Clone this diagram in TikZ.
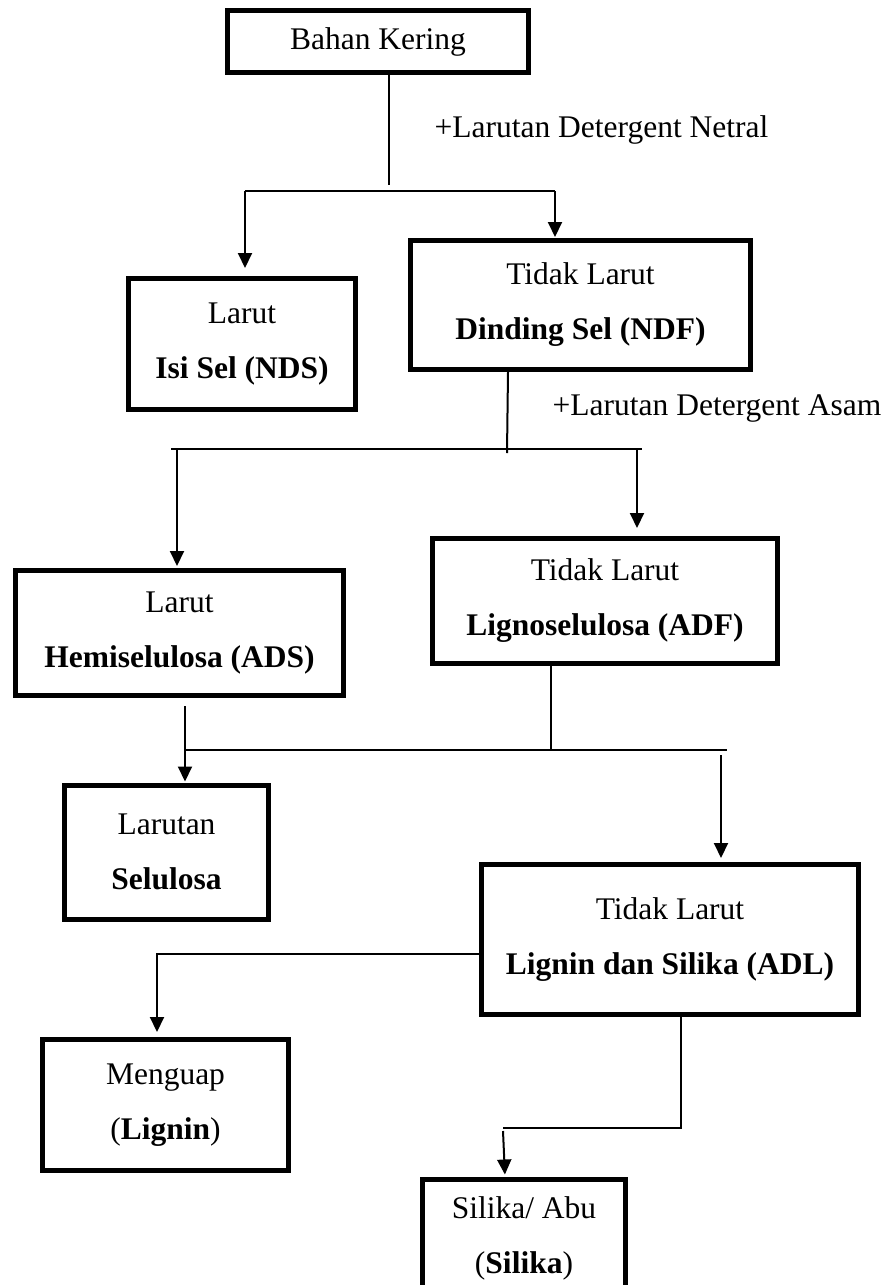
\documentclass[tikz,border=0pt]{standalone}
\usepackage{fontspec}
\setmainfont{Liberation Serif}
\usetikzlibrary{arrows.meta}
\tikzset{
  box/.style={draw=black, line width=5pt, rectangle, inner sep=0pt, align=center,
    font=\fontsize{31.5}{55}\selectfont},
  lbl/.style={inner sep=0pt, font=\fontsize{31.5}{38}\selectfont},
  conn/.style={draw=black, line width=2pt},
  arr/.style={conn, -{Triangle[length=15pt,width=14pt]}},
}
\begin{document}
\begin{tikzpicture}[x=1pt,y=-1pt]
\useasboundingbox (0,0) rectangle (893,1285);
\clip (0,0) rectangle (893,1285);
% boxes
\node[box, minimum width=301, minimum height=62] (b1) at (378,41.5) {Bahan Kering};
\node[box, minimum width=227, minimum height=131] (b2) at (242,344) {Larut\\\textbf{Isi Sel (NDS)}};
\node[box, minimum width=340, minimum height=129] (b3) at (580.5,305) {Tidak Larut\\\textbf{Dinding Sel (NDF)}};
\node[box, minimum width=328, minimum height=125] (b4) at (179.5,633) {Larut\\\textbf{Hemiselulosa (ADS)}};
\node[box, minimum width=345, minimum height=125] (b5) at (605,601) {Tidak Larut\\\textbf{Lignoselulosa (ADF)}};
\node[box, minimum width=204, minimum height=134] (b6) at (166.5,852) {Larutan\\\textbf{Selulosa}};
\node[box, minimum width=377, minimum height=150] (b7) at (670,939.5) {Tidak Larut\\\textbf{Lignin dan Silika (ADL)}};
\node[box, minimum width=246, minimum height=131] (b8) at (165.5,1105) {Menguap\\(\textbf{Lignin})};
\node[box, minimum width=203, minimum height=160, anchor=north] (b9) at (524,1176.5) {};
\node[lbl, align=center, font=\fontsize{31.5}{55}\selectfont] (t9) at (524,1238) {Silika/ Abu\\(\textbf{Silika})};
% labels
\node[lbl] (l1) at (601.5,130) {+Larutan Detergent Netral};
\node[lbl] (l2) at (717,408) {+Larutan Detergent Asam};
% connectors level 1
\coordinate (j1) at (389,185);
\coordinate (h1l) at (245,191);
\coordinate (h1r) at (555,191);
\draw[conn] (b1.south -| j1) -- (j1);
\draw[conn] (h1l) -- (h1r);
\draw[arr, shorten >=8pt] (h1l) -- (h1l |- b2.north);
\draw[arr, shorten >=1pt] (h1r) -- (h1r |- b3.north);
% level 2
\coordinate (j2) at (507,453);
\coordinate (h2l) at (171,449);
\coordinate (h2r) at (642,449);
\coordinate (d2l) at (177,449);
\coordinate (d2r) at (637,449);
\draw[conn] (b3.south -| 508,0) -- (j2);
\draw[conn] (h2l) -- (h2r);
\draw[arr, shorten >=2pt] (d2l) -- (d2l |- b4.north);
\draw[arr, shorten >=8pt] (d2r) -- (d2r |- b5.north);
% level 3
\coordinate (s4) at (185,706);
\coordinate (h3l) at (185,750);
\coordinate (h3r) at (727,750);
\coordinate (j3) at (551,750);
\coordinate (s7) at (721,755);
\draw[conn] (h3l) -- (h3r);
\draw[conn] (b5.south -| j3) -- (j3);
\draw[arr, shorten >=1pt] (s4) -- (s4 |- b6.north);
\draw[arr, shorten >=4pt] (s7) -- (s7 |- b7.north);
% level 4
\coordinate (k8) at (157,954);
\draw[arr, shorten >=5pt] (b7.west |- k8) -- (k8) -- (k8 |- b8.north);
\coordinate (k9a) at (681,1128);
\coordinate (k9b) at (503,1128);
\coordinate (k9c) at (503,1131);
\coordinate (k9d) at (505,1131);
\draw[conn] (b7.south -| k9a) -- (k9a) -- (k9b);
\draw[arr, shorten >=2pt] (k9c) -- (k9d |- b9.north);
\end{tikzpicture}
\end{document}
